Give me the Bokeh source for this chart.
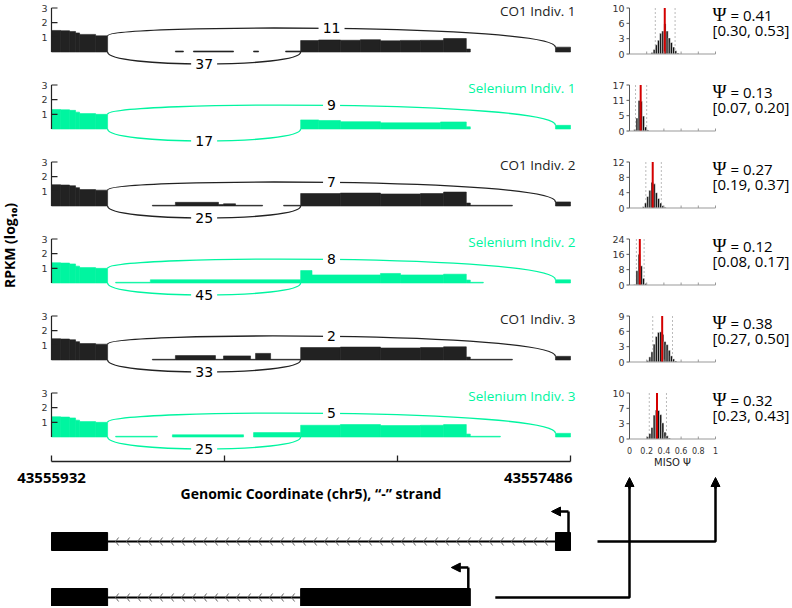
import numpy as np
from bokeh.plotting import figure
from bokeh.models import Range1d, Arrow, NormalHead
from bokeh.core.properties import value
from bokeh.embed import file_html
from bokeh.resources import INLINE

# ---------------- data ----------------
CHROM_START = 43555932
CHROM_END = 43557486
samples = ["CO1 Indiv. 1", "Selenium Indiv. 1", "CO1 Indiv. 2",
           "Selenium Indiv. 2", "CO1 Indiv. 3", "Selenium Indiv. 3"]
is_selenium = [False, True, False, True, False, True]

# exons as offsets (bp) from CHROM_START
exons = [(0, 168), (746, 1254), (1509, 1554)]
isoform_long_exons = [0, 2]    # upper gene model
isoform_short_exons = [0, 1]   # lower gene model

# read coverage: (start offset, end offset, log10 RPKM)
cov_co1_1 = [(0, 27, 1.47), (27, 54, 1.45), (54, 72, 1.40), (72, 84, 1.30), (84, 132, 1.20), (132, 168, 1.10),
             (371, 395, 0.07), (425, 545, 0.07), (605, 620, 0.07), (701, 746, 0.07),
             (746, 800, 0.78), (800, 865, 0.82), (865, 925, 0.80), (925, 985, 0.84), (985, 1045, 0.76),
             (1045, 1105, 0.79), (1105, 1174, 0.80), (1174, 1242, 0.92), (1242, 1254, 0.20),
             (1509, 1554, 0.33)]
cov_se_1 = [(0, 27, 1.33), (27, 54, 1.31), (54, 72, 1.27), (72, 84, 1.15), (84, 132, 1.05), (132, 168, 1.00),
            (746, 800, 0.62), (800, 865, 0.58), (865, 985, 0.50), (985, 1165, 0.42), (1165, 1242, 0.48),
            (1242, 1254, 0.15), (1509, 1554, 0.25)]
cov_co1_2 = [(0, 27, 1.45), (27, 54, 1.43), (54, 72, 1.38), (72, 84, 1.25), (84, 132, 1.12), (132, 168, 1.08),
             (302, 371, 0.05), (371, 500, 0.25), (500, 515, 0.10), (515, 551, 0.15),
             (551, 632, 0.05), (695, 746, 0.05),
             (746, 865, 0.85), (865, 985, 0.88), (985, 1105, 0.82), (1105, 1174, 0.85),
             (1174, 1242, 0.95), (1242, 1254, 0.20), (1254, 1380, 0.05), (1509, 1554, 0.28)]
cov_se_2 = [(0, 27, 1.38), (27, 54, 1.36), (54, 72, 1.30), (72, 84, 1.15), (84, 132, 1.05), (132, 168, 1.00),
            (192, 296, 0.05), (296, 746, 0.22),
            (746, 780, 0.85), (780, 985, 0.55), (985, 1045, 0.65), (1045, 1174, 0.55),
            (1174, 1242, 0.60), (1242, 1254, 0.20), (1254, 1293, 0.05), (1509, 1554, 0.22)]
cov_co1_3 = [(0, 27, 1.45), (27, 54, 1.43), (54, 72, 1.38), (72, 84, 1.25), (84, 132, 1.12), (132, 168, 1.08),
             (302, 371, 0.05), (371, 491, 0.30), (491, 515, 0.05), (515, 596, 0.28),
             (596, 611, 0.05), (611, 656, 0.45), (656, 746, 0.05),
             (746, 865, 0.85), (865, 985, 0.88), (985, 1105, 0.82), (1105, 1174, 0.85),
             (1174, 1242, 0.90), (1242, 1254, 0.20), (1254, 1380, 0.05), (1509, 1554, 0.25)]
cov_se_3 = [(0, 27, 1.38), (27, 54, 1.36), (54, 72, 1.30), (72, 84, 1.15), (84, 132, 1.05), (132, 168, 1.00),
            (192, 317, 0.05), (362, 575, 0.15), (605, 746, 0.30),
            (746, 865, 0.80), (865, 985, 0.85), (985, 1105, 0.78), (1105, 1174, 0.80),
            (1174, 1242, 0.85), (1242, 1254, 0.20), (1254, 1344, 0.05), (1509, 1554, 0.25)]
coverages = [cov_co1_1, cov_se_1, cov_co1_2, cov_se_2, cov_co1_3, cov_se_3]

# junction read counts
skip_junction = (168, 1509)      # exon 1 -> last exon (drawn above)
incl_junction = (168, 746)       # exon 1 -> middle exon (drawn below)
skip_counts = [11, 9, 7, 8, 2, 5]
incl_counts = [37, 17, 25, 45, 33, 25]

# MISO psi estimates
psi_mean = [0.41, 0.13, 0.27, 0.12, 0.38, 0.32]
psi_low = [0.30, 0.07, 0.19, 0.08, 0.27, 0.23]
psi_high = [0.53, 0.20, 0.37, 0.17, 0.50, 0.43]

# posterior histograms (bin width 0.025)
BIN = 0.025
hist_start = [0.25, 0.05, 0.15, 0.05, 0.20, 0.20]
hist_counts = [
    [0.3, 1.0, 2.0, 3.0, 4.5, 5.0, 6.6, 5.0, 3.5, 2.5, 1.5, 0.7, 0.2],
    [0.6, 4.8, 11.3, 11.0, 5.5, 1.5, 0.4],
    [0.3, 1.3, 3.0, 4.6, 6.7, 6.3, 4.0, 2.5, 1.3, 0.6, 0.2],
    [0.3, 7.5, 16.0, 10.0, 3.5, 0.8],
    [0.3, 1.0, 2.0, 3.5, 5.0, 5.8, 5.9, 5.4, 4.0, 3.4, 2.3, 1.2, 0.6, 0.2],
    [0.5, 1.2, 2.5, 5.2, 6.3, 6.2, 5.3, 3.5, 1.5, 0.7, 0.2],
]
hist_ymax = [10, 17, 12, 24, 9, 10]
hist_tick_labels = [["0", "3", "6", "10"], ["0", "5", "11", "17"], ["0", "4", "8", "12"],
                    ["0", "8", "16", "24"], ["0", "3", "6", "9"], ["0", "3", "7", "10"]]
psi_ticks = [0, 0.2, 0.4, 0.6, 0.8, 1]
psi_tick_labels = ["0", "0.2", "0.4", "0.6", "0.8", "1"]
cov_ticks = [1, 2, 3]
genome_ticks = 4

# ---------------- layout ----------------
W, H = 790, 606


def x_range_for(va, pa, vb, pb):
    k = (vb - va) / (pb - pa)
    return Range1d(start=va - pa * k, end=va + (W - pa) * k)


def y_range_for(va, pa, vb, pb):
    k = (vb - va) / (pb - pa)
    return Range1d(start=va + (H - pa) * k, end=va - pa * k)


GX0, GX1 = 51, 570          # genomic axis span (layout px)
PSI0, PSI1 = 629, 715       # psi axis span (layout px)
ROW = 77                    # panel pitch
BP_PX = (CHROM_END - CHROM_START) / (GX1 - GX0)
PSI_PX = 1.0 / (PSI1 - PSI0)

BLACK = "#222222"
GREEN = "#00F5A0"
SANS = value("Open Sans")
NUM = value("DejaVu Sans")

p = figure(width=W, height=H, output_backend="svg", toolbar_location=None,
           x_range=x_range_for(CHROM_START, GX0, CHROM_END, GX1),
           y_range=y_range_for(0, 0, 100, 100),
           x_axis_location=None, y_axis_location=None, min_border=0)
p.outline_line_color = None
p.xgrid.grid_line_color = None
p.ygrid.grid_line_color = None
p.extra_x_ranges = {"psi": x_range_for(0, PSI0, 1, PSI1), "px": x_range_for(0, 0, 100, 100)}
for k in range(6):
    p.extra_y_ranges[f"s{k}"] = y_range_for(0, 51.5 + ROW * k, 3, 7.5 + ROW * k)
    p.extra_y_ranges[f"h{k}"] = y_range_for(0, 53.5 + ROW * k, hist_ymax[k], 7.5 + ROW * k)


def cov_at(cov, pos):
    for a, b, v in cov:
        if a <= pos < b:
            return v
    return 0.0


UP_APEX, DOWN_APEX = 1.61, -0.82

for k in range(6):
    sr = f"s{k}"
    col = GREEN if is_selenium[k] else BLACK
    cov = coverages[k]
    p.quad(left=[CHROM_START + a for a, b, v in cov], right=[CHROM_START + b for a, b, v in cov],
           bottom=0, top=[v for a, b, v in cov], fill_color=col, line_color=col,
           line_width=0.6, y_range_name=sr)
    # coverage y axis
    p.segment(x0=CHROM_START, y0=0, x1=CHROM_START, y1=max(cov_ticks), line_color=BLACK,
              line_width=1.2, y_range_name=sr)
    p.segment(x0=[CHROM_START] * 3, y0=cov_ticks, x1=[CHROM_START + 6 * BP_PX] * 3, y1=cov_ticks,
              line_color=BLACK, line_width=1.2, y_range_name=sr)
    p.text(x=[CHROM_START - 4 * BP_PX] * 3, y=cov_ticks, text=[str(t) for t in cov_ticks],
           text_font=NUM, text_font_size="9.5px", text_align="right", text_baseline="middle",
           text_color="#333333", y_range_name=sr)
    # junction arcs
    a0, a1 = CHROM_START + skip_junction[0], CHROM_START + skip_junction[1]
    yl, yr = cov_at(cov, skip_junction[0] - 1), cov_at(cov, skip_junction[1])
    hu = (UP_APEX - (yl + yr) / 8) / 0.75
    p.bezier(x0=[a0], y0=[yl], x1=[a1], y1=[yr], cx0=[a0], cy0=[hu], cx1=[a1], cy1=[hu],
             line_color=col, line_width=1.3, y_range_name=sr)
    b0, b1 = CHROM_START + incl_junction[0], CHROM_START + incl_junction[1]
    hd = DOWN_APEX / 0.75
    p.bezier(x0=[b0], y0=[0], x1=[b1], y1=[0], cx0=[b0], cy0=[hd], cx1=[b1], cy1=[hd],
             line_color=col, line_width=1.3, y_range_name=sr)
    for xm, ym, n in [((a0 + a1) / 2, UP_APEX, skip_counts[k]), ((b0 + b1) / 2, DOWN_APEX, incl_counts[k])]:
        s = str(n)
        p.rect(x=[xm], y=[ym], width=9 * len(s) + 8, height=14, width_units="screen",
               height_units="screen", fill_color="white", line_color=None, y_range_name=sr)
        p.text(x=[xm], y=[ym], text=[s], text_font=NUM, text_font_size="14px",
               text_align="center", text_baseline="middle", text_color="black", y_range_name=sr)
    # sample label
    p.text(x=[575], y=[10 + ROW * k], text=[samples[k]], text_font=SANS, text_font_size="13.5px",
           text_align="right", text_baseline="middle", text_color=col, x_range_name="px")

    # ---- histogram ----
    hr = f"h{k}"
    ymax = hist_ymax[k]
    p.segment(x0=[psi_low[k], psi_high[k]], y0=0, x1=[psi_low[k], psi_high[k]], y1=ymax,
              line_color="#bbbbbb", line_width=1, line_dash="2 2",
              x_range_name="psi", y_range_name=hr)
    edges = [hist_start[k] + BIN * i for i in range(len(hist_counts[k]))]
    p.quad(left=edges, right=[e + BIN for e in edges], bottom=0, top=hist_counts[k],
           fill_color="#111111", line_color="white", line_width=0.5,
           x_range_name="psi", y_range_name=hr)
    p.segment(x0=[psi_mean[k]], y0=0, x1=[psi_mean[k]], y1=ymax, line_color="#d40000",
              line_width=2, x_range_name="psi", y_range_name=hr)
    yt = list(np.linspace(0, ymax, 4))
    p.segment(x0=0, y0=0, x1=0, y1=ymax, line_color="#555555", line_width=1,
              x_range_name="psi", y_range_name=hr)
    p.segment(x0=[-3 * PSI_PX] * 4, y0=yt, x1=[0] * 4, y1=yt, line_color="#555555",
              line_width=1, x_range_name="psi", y_range_name=hr)
    p.text(x=[-5 * PSI_PX] * 4, y=yt, text=hist_tick_labels[k], text_font=NUM,
           text_font_size="9.5px", text_align="right", text_baseline="middle",
           text_color="#333333", x_range_name="psi", y_range_name=hr)
    p.segment(x0=0, y0=0, x1=1, y1=0, line_color="#999999", line_width=1,
              x_range_name="psi", y_range_name=hr)
    tick_h = 2.5 * ymax / 46
    p.segment(x0=psi_ticks[1:], y0=0, x1=psi_ticks[1:], y1=tick_h, line_color="#999999",
              line_width=1, x_range_name="psi", y_range_name=hr)
    # psi text
    p.text(x=[712], y=[14 + ROW * k], text=["Ψ"], text_font=value("Liberation Serif"),
           text_font_size="19px", text_align="left", text_baseline="middle",
           text_color="black", x_range_name="px")
    p.text(x=[730], y=[14 + ROW * k], text=[f"= {psi_mean[k]:.2f}"], text_font=SANS,
           text_font_size="15px", text_align="left", text_baseline="middle",
           text_color="black", x_range_name="px")
    p.text(x=[712], y=[29.5 + ROW * k], text=[f"[{psi_low[k]:.2f}, {psi_high[k]:.2f}]"],
           text_font=SANS, text_font_size="15px", text_align="left", text_baseline="middle",
           text_color="black", x_range_name="px")

# psi axis labels (last histogram)
p.text(x=psi_ticks, y=[450] * len(psi_ticks), text=psi_tick_labels, text_font=NUM,
       text_font_size="8px", text_align="center", text_baseline="middle",
       text_color="#333333", x_range_name="psi")
p.text(x=[0.5], y=[462], text=["MISO Ψ"], text_font=NUM, text_font_size="10px",
       text_align="center", text_baseline="middle", text_color="#222222", x_range_name="psi")

# genomic axis
AXY = 461
gt = list(np.linspace(CHROM_START, CHROM_END, genome_ticks))
p.segment(x0=CHROM_START, y0=AXY, x1=CHROM_END, y1=AXY, line_color="#222222", line_width=1.3)
p.segment(x0=gt, y0=[AXY] * len(gt), x1=gt, y1=[AXY - 6] * len(gt), line_color="#222222", line_width=1.3)
p.text(x=[CHROM_START], y=[477], text=[str(CHROM_START)], text_font=SANS, text_font_size="15px",
       text_font_style="bold", text_align="center", text_baseline="middle", text_color="black")
p.text(x=[CHROM_END + 2 * BP_PX], y=[477], text=[str(CHROM_END)], text_font=SANS,
       text_font_size="15px", text_font_style="bold", text_align="right", text_baseline="middle",
       text_color="black")
p.text(x=[(CHROM_START + CHROM_END) / 2], y=[493], text=["Genomic Coordinate (chr5), “-” strand"],
       text_font=SANS, text_font_size="14px", text_font_style="bold", text_align="center",
       text_baseline="middle", text_color="black")
p.text(x=[9], y=[245], text=["RPKM (log₁₀)"], angle=np.pi / 2, text_font=SANS,
       text_font_size="14px", text_font_style="bold", text_align="center",
       text_baseline="middle", text_color="black", x_range_name="px")

# gene models
models = [(isoform_long_exons, 541, 1.0), (isoform_short_exons, 597, 0.0)]
HALF = 9
for ex_idx, yc, target_psi in models:
    exs = [exons[i] for i in ex_idx]
    p.quad(left=[CHROM_START + a for a, b in exs], right=[CHROM_START + b for a, b in exs],
           bottom=[yc + HALF] * len(exs), top=[yc - HALF] * len(exs),
           fill_color="black", line_color="black")
    i0, i1 = CHROM_START + exs[0][1], CHROM_START + exs[1][0]
    p.segment(x0=i0, y0=yc, x1=i1, y1=yc, line_color="black", line_width=2)
    cxs = np.arange(i0 + 8 * BP_PX, i1 - 3 * BP_PX, 11 * BP_PX)
    p.segment(x0=cxs + 3 * BP_PX, y0=yc - 4, x1=cxs, y1=yc, line_color="#666666", line_width=1)
    p.segment(x0=cxs, y0=yc, x1=cxs + 3 * BP_PX, y1=yc + 4, line_color="#666666", line_width=1)
    # transcription start (minus strand -> right end)
    tx = CHROM_START + exs[-1][1] - 2 * BP_PX
    p.segment(x0=tx, y0=yc - HALF, x1=tx, y1=yc - 30, line_color="black", line_width=2.5)
    p.add_layout(Arrow(end=NormalHead(size=9, fill_color="black", line_color="black"),
                       x_start=tx, y_start=yc - 30, x_end=tx - 17 * BP_PX, y_end=yc - 30,
                       line_color="black", line_width=2.5))
    # connector to psi axis
    gap_px = 27 if target_psi == 1.0 else 25
    x_start_psi = ((GX0 + (exs[-1][1]) / BP_PX) + gap_px - PSI0) * PSI_PX
    p.line(x=[x_start_psi, target_psi, target_psi], y=[yc, yc, 486], line_color="black",
           line_width=2.5, x_range_name="psi")
    p.add_layout(Arrow(end=NormalHead(size=9, fill_color="black", line_color="black"),
                       x_start=target_psi, y_start=488, x_end=target_psi, y_end=477,
                       line_color="black", line_width=2.5, x_range_name="psi"))

open("out.html", "w").write(file_html(p, INLINE))
